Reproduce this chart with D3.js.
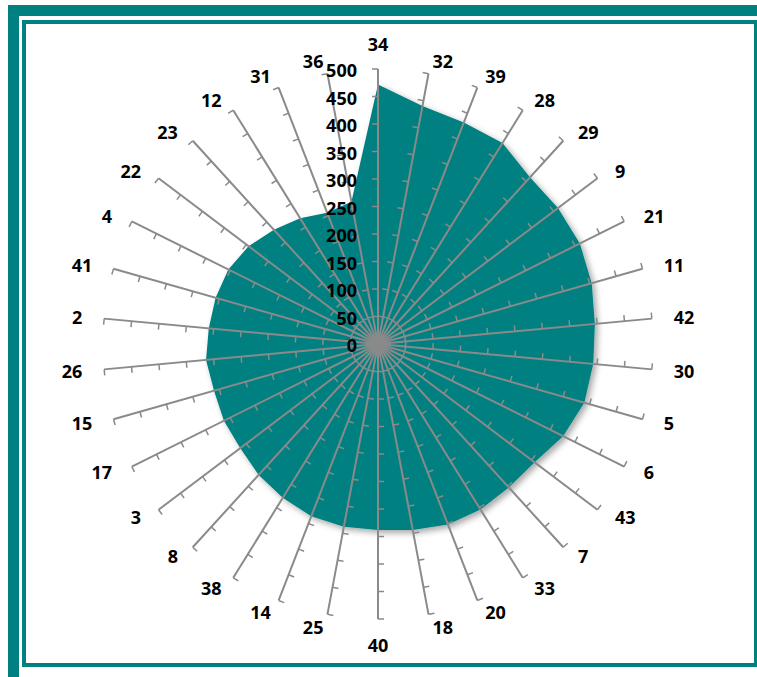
<!DOCTYPE html>
<html>
<head>
<meta charset="utf-8">
<script src="https://cdn.jsdelivr.net/npm/d3@7"></script>
<style>
  html, body { margin: 0; padding: 0; background: #ffffff; }
  svg { display: block; }
  text { font-family: "Open Sans", "DejaVu Sans", sans-serif; font-weight: 700; fill: #000; }
</style>
</head>
<body>
<svg id="chart" width="757" height="677"></svg>
<script>
// ---- data ----
const categories = ["34","32","39","28","29","9","21","11","42","30","5","6","43","7","33","20","18","40","25","14","38","8","3","17","15","26","2","41","4","22","23","12","31","36"];
const values = [472,440,432,430,410,410,410,404,396,393,390,376,357,353,354,352,344,338,338,336,329,322,314,313,310,314,309,307,304,295,281,269,256,263];
const tickValues = [0,50,100,150,200,250,300,350,400,450,500];

// ---- layout ----
const svg = d3.select("#chart");
const cx = 378, cy = 344;
const teal = "#008080";
const axisColor = "#8a8a8a";

// frame
svg.append("rect").attr("x", 13.5).attr("y", 10.5).attr("width", 770).attr("height", 680)
  .attr("fill", "none").attr("stroke", teal).attr("stroke-width", 11);
svg.append("rect").attr("x", 24).attr("y", 22).attr("width", 732).attr("height", 643)
  .attr("fill", "#ffffff").attr("stroke", teal).attr("stroke-width", 4);

const defs = svg.append("defs");
const f = defs.append("filter").attr("id", "shadow").attr("x", "-10%").attr("y", "-10%").attr("width", "120%").attr("height", "120%");
f.append("feDropShadow").attr("dx", 3).attr("dy", 3).attr("stdDeviation", 3)
  .attr("flood-color", "#000").attr("flood-opacity", 0.35);

const r = d3.scaleLinear().domain([0, 500]).range([0, 275]);
const angle = d3.scaleLinear().domain([0, categories.length]).range([0, 2 * Math.PI]);

const g = svg.append("g").attr("transform", `translate(${cx},${cy})`);

// filled series
const radial = d3.lineRadial()
  .angle((d, i) => angle(i))
  .radius(d => r(d))
  .curve(d3.curveLinearClosed);
g.append("path").datum(values)
  .attr("d", radial)
  .attr("fill", teal)
  .attr("filter", "url(#shadow)");

// axes with ticks
const tickLen = 6;
categories.forEach((c, i) => {
  const a = angle(i);
  const dx = Math.sin(a), dy = -Math.cos(a);
  const nx = dy, ny = -dx; // left-hand normal facing outward
  const R = r(500);
  g.append("line")
    .attr("x1", 0).attr("y1", 0)
    .attr("x2", R * dx).attr("y2", R * dy)
    .attr("stroke", axisColor).attr("stroke-width", 2);
  tickValues.slice(1).forEach(t => {
    const px = r(t) * dx, py = r(t) * dy;
    g.append("line")
      .attr("x1", px).attr("y1", py)
      .attr("x2", px + nx * tickLen).attr("y2", py + ny * tickLen)
      .attr("stroke", axisColor).attr("stroke-width", 1.5);
  });
  // category label
  let lx, ly, anchor;
  if (Math.abs(dx) < 0.01) {
    anchor = "middle";
    lx = 0;
    ly = R * dy + (dy < 0 ? -25 : 26);
  } else {
    anchor = dx > 0 ? "start" : "end";
    lx = R * dx + 22 * dx;
    ly = R * dy + 12.5 * dy;
  }
  g.append("text")
    .attr("x", lx).attr("y", ly)
    .attr("text-anchor", anchor)
    .attr("dominant-baseline", "central")
    .style("font-size", "18px")
    .text(c);
});

// value labels along the first axis
tickValues.forEach(t => {
  g.append("text")
    .attr("x", -21).attr("y", -r(t) + 1)
    .attr("text-anchor", "end")
    .attr("dominant-baseline", "central")
    .style("font-size", "18px")
    .text(t);
});
</script>
</body>
</html>
